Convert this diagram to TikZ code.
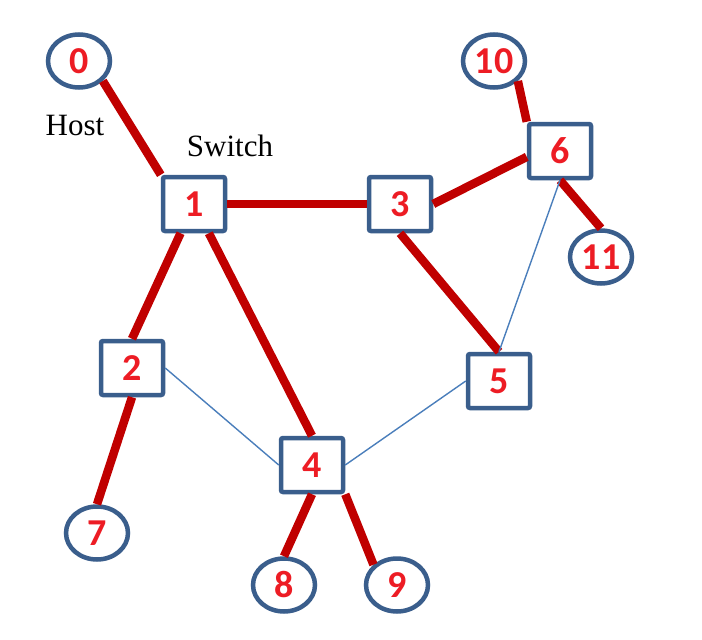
\documentclass[tikz,border=0pt]{standalone}
\usepackage{fontspec}
\setmainfont{Liberation Serif}
\newfontfamily\numfont{Carlito}
\usetikzlibrary{shapes.geometric}
\definecolor{nodeblue}{HTML}{3A5E8C}
\definecolor{numred}{HTML}{ED1C24}
\definecolor{linkred}{HTML}{C00000}
\definecolor{linkblue}{HTML}{4A7EBB}
\tikzset{
  hostnode/.style={ellipse, draw=nodeblue, line width=4.5pt, fill=white,
    minimum width=62pt, minimum height=53pt, inner sep=0pt,
    text=numred, font=\numfont\bfseries\fontsize{38}{38}\selectfont},
  switchnode/.style={rectangle, rounded corners=2pt, draw=nodeblue, line width=4.5pt, fill=white,
    minimum width=62pt, minimum height=54pt, inner sep=0pt,
    text=numred, font=\numfont\bfseries\fontsize{38}{38}\selectfont},
  tree/.style={draw=linkred, line width=8.5pt},
  spare/.style={draw=linkblue, line width=1.4pt},
  lbl/.style={font=\fontsize{31}{31}\selectfont, inner sep=0pt, text=black}
}
\begin{document}
\begin{tikzpicture}[x=1pt, y=-1pt]
\useasboundingbox (0,0) rectangle (702,640);
% hosts
\node[hostnode] (n0) at (79,61) {0};
\node[hostnode] (n10) at (494,61) {10};
\node[hostnode] (n11) at (601,257) {11};
\node[hostnode] (n7) at (97,533) {7};
\node[hostnode] (n8) at (284,585) {8};
\node[hostnode] (n9) at (397,585) {9};
% switches
\node[switchnode] (n1) at (194,204) {1};
\node[switchnode] (n3) at (400,204) {3};
\node[switchnode] (n6) at (560,151) {6};
\node[switchnode] (n2) at (132,368) {2};
\node[switchnode] (n4) at (312,465) {4};
\node[switchnode] (n5) at (499,381) {5};
% labels
\node[lbl] (host) at (75,126) {Host};
\node[lbl] (switch) at (230,146) {Switch};
% spanning tree links
\draw[tree] (n0.-40) -- (n1.north west);
\draw[tree] (n1.east) -- (n3.west);
\draw[tree] (n3.east) -- (n6.190);
\draw[tree] (n1) -- (n2.north);
\draw[tree] (n1) -- (n4.north);
\draw[tree] (n3.south) -- (n5.north);
\draw[tree] (n10.-40) -- (n6.north west);
\draw[tree] (n6.south) -- (n11.north);
\draw[tree] (n2.south) -- (n7.north);
\draw[tree] (n4.south) -- (n8.north);
\draw[tree] (n4.south east) -- (n9.north west);
% other links
\draw[spare] (n2.east) -- (n4.west);
\draw[spare] (n4.east) -- (n5.west);
\draw[spare] (n5.north) -- (n6.south);
\end{tikzpicture}
\end{document}
